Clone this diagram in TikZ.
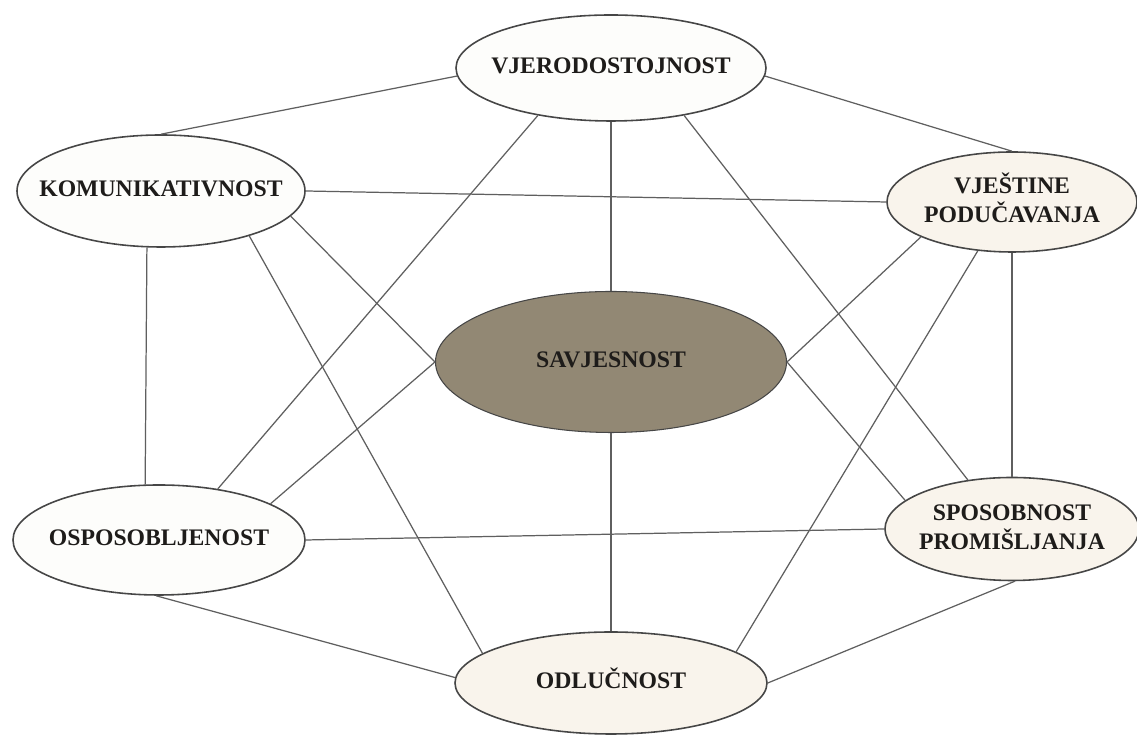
\documentclass[tikz,border=0pt]{standalone}
\usepackage{fontspec}
\setmainfont{Liberation Serif}
\usetikzlibrary{shapes,positioning}
\definecolor{edgegray}{RGB}{70,70,70}
\definecolor{linkgray}{RGB}{95,95,95}
\definecolor{paperwhite}{RGB}{253,253,251}
\definecolor{creamfill}{RGB}{249,244,236}
\definecolor{taupefill}{RGB}{146,136,116}
\definecolor{inkblack}{RGB}{30,28,26}
\newcommand{\elltext}[1]{\makebox[0pt]{\begin{tabular}{@{}c@{}}#1\end{tabular}}}
\tikzset{
    % Quality ellipses
    quality/.style={
        ellipse, draw=edgegray, line width=0.9pt, fill=paperwhite,
        inner sep=0pt, text=inkblack,
        font=\fontsize{13.5}{17}\selectfont\bfseries
    },
    creamquality/.style={
        quality, fill=creamfill
    },
    corequality/.style={
        quality, fill=taupefill, line width=0.6pt
    },
    % Connecting lines
    link/.style={
        draw=linkgray, line width=0.7pt
    }
}

\begin{document}
\begin{tikzpicture}

\useasboundingbox[fill=white] (0,0) rectangle (22.74,14.76);

% Central quality
\node[corequality, minimum width=7.02cm, minimum height=2.82cm] (savj) at (12.22,7.52) {\elltext{SAVJESNOST}};

% Outer ring of qualities
\node[quality, minimum width=6.2cm, minimum height=2.12cm] (vjer) at (12.22,13.40) {\elltext{VJERODOSTOJNOST}};
\node[quality, minimum width=5.76cm, minimum height=2.24cm] (komu) at (3.22,10.94) {\elltext{KOMUNIKATIVNOST}};
\node[creamquality, minimum width=5.0cm, minimum height=2.0cm] (podu) at (20.24,10.72) {\elltext{VJEŠTINE\\PODUČAVANJA}};
\node[quality, minimum width=5.84cm, minimum height=2.2cm] (ospo) at (3.18,3.96) {\elltext{OSPOSOBLJENOST}};
\node[creamquality, minimum width=5.08cm, minimum height=2.06cm] (prom) at (20.24,4.18) {\elltext{SPOSOBNOST\\PROMIŠLJANJA}};
\node[creamquality, minimum width=6.24cm, minimum height=2.04cm] (odlu) at (12.22,1.10) {\elltext{ODLUČNOST}};

% Lines from the top quality
\draw[link] (vjer.183) -- (komu.north);
\draw[link] (vjer.-3) -- (podu.north);
\draw[link] (vjer.south) -- (savj.north);
\draw[link] (vjer.213) -- (ospo.41);
\draw[link] (vjer.-33) -- (prom.132);

% Lines from the left side
\draw[link] (komu.east) -- (podu.west);
\draw[link] (komu.-11) -- (savj.west);
\draw[link] (komu.-27) -- (odlu.167);
\draw[link] (komu.-104) -- (ospo.104);
\draw[link] (ospo.18) -- (savj.west);
\draw[link] (ospo.east) -- (prom.west);
\draw[link] (ospo.-93) -- (odlu.178);

% Lines from the right side
\draw[link] (podu.201) -- (savj.east);
\draw[link] (podu.235) -- (odlu.14);
\draw[link] (podu.south) -- (prom.north);
\draw[link] (prom.165) -- (savj.east);
\draw[link] (prom.-87) -- (odlu.east);

% Line to the bottom quality
\draw[link] (savj.south) -- (odlu.north);

\end{tikzpicture}
\end{document}
